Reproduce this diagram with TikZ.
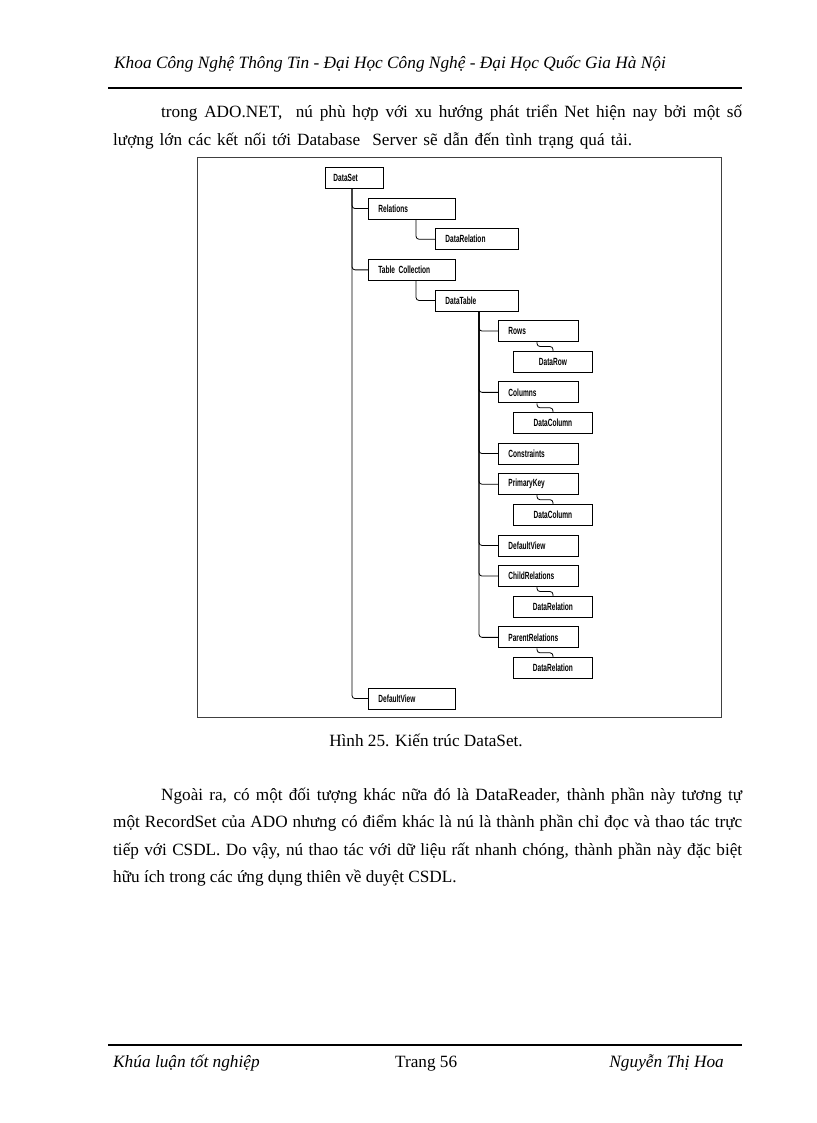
\documentclass[tikz,border=0pt]{standalone}
\usepackage{fontspec}
\setmainfont{Liberation Serif}
\newfontfamily\boxfont[FakeStretch=0.63,UprightFont=* Bold]{Liberation Sans}
\tikzset{
  body/.style={anchor=base west, inner sep=0pt, font=\fontsize{17.2pt}{20pt}\selectfont},
  hdr/.style={anchor=base west, inner sep=0pt, font=\fontsize{17.3pt}{20pt}\selectfont\itshape},
  lbox/.style={draw, line width=0.9pt, anchor=north west, minimum height=21pt, inner xsep=10pt, inner ysep=0pt, align=left, font=\boxfont\fontsize{10.4pt}{12pt}\selectfont},
  cbox/.style={lbox, align=center},
  conn/.style={line width=0.8pt, rounded corners=3pt},
  frame/.style={line width=0.8pt, draw=black!75},
  rulel/.style={line width=2.4pt}
}
\begin{document}
\begin{tikzpicture}[x=1pt,y=-1pt]
\useasboundingbox (0,0) rectangle (816,1123);
\fill[white] (0,0) rectangle (816,1123);
% header
\node[hdr] (head) at (114,69) {Khoa Công Nghệ Thông Tin - Đại Học Công Nghệ - Đại Học Quốc Gia Hà Nội};
\coordinate (hrA) at (108,88); \coordinate (hrB) at (742,88);
\draw[rulel] (hrA) -- (hrB);
% paragraph 1
\node[body] (p1a) at (161,118) {\hbox to 581pt{trong ADO.NET, \ nú phù hợp với xu hướng phát triển Net hiện nay bởi một số}};
\node[body] (p1b) at (113,145.5) {\hbox to 519pt{lượng lớn các kết nối tới Database \ Server sẽ dẫn đến tình trạng quá tải.}};
% frame
\draw[frame] (197,157) rectangle (721,717);
% boxes
\node[lbox, text width=42pt, inner xsep=8pt] (ds) at (325,167) {DataSet};
\node[lbox, text width=67pt] (rel) at (368,197.6) {Relations};
\node[lbox, text width=63pt] (drel) at (435,228.3) {DataRelation};
\node[lbox, text width=67pt] (tc) at (368,258.9) {Table Collection};
\node[lbox, text width=63pt] (dt) at (435,289.5) {DataTable};
\node[lbox, text width=60pt] (rows) at (498,320.1) {Rows};
\node[cbox, text width=59pt] (drow) at (513,350.8) {DataRow};
\node[lbox, text width=60pt] (cols) at (498,381.4) {Columns};
\node[cbox, text width=59pt] (dcol) at (513,412) {DataColumn};
\node[lbox, text width=60pt] (cons) at (498,442.6) {Constraints};
\node[lbox, text width=60pt] (pk) at (498,473.3) {PrimaryKey};
\node[cbox, text width=59pt] (dcol2) at (513,503.9) {DataColumn};
\node[lbox, text width=60pt] (dv2) at (498,534.5) {DefaultView};
\node[lbox, text width=60pt] (cr) at (498,565.1) {ChildRelations};
\node[cbox, text width=59pt] (drel2) at (513,595.8) {DataRelation};
\node[lbox, text width=60pt] (pr) at (498,626.4) {ParentRelations};
\node[cbox, text width=59pt] (drel3) at (513,657) {DataRelation};
\node[lbox, text width=67pt] (dv) at (368,687.6) {DefaultView};
% connectors
\draw[conn] ([xshift=27pt]ds.south west) |- (rel.west);
\draw[conn] ([xshift=27pt]ds.south west) |- (tc.west);
\draw[conn] ([xshift=27pt]ds.south west) |- (dv.west);
\draw[conn] ([xshift=48pt]rel.south west) |- (drel.west);
\draw[conn] ([xshift=48pt]tc.south west) |- (dt.west);
\foreach \t in {rows,cols,cons,pk,dv2,cr,pr}
  \draw[conn] ([xshift=44pt]dt.south west) |- (\t.west);
\draw[conn] ([xshift=39pt]rows.south west) -- ++(0,4.5) -| ([xshift=40pt]drow.north west);
\draw[conn] ([xshift=39pt]cols.south west) -- ++(0,4.5) -| ([xshift=40pt]dcol.north west);
\draw[conn] ([xshift=39pt]pk.south west) -- ++(0,4.5) -| ([xshift=40pt]dcol2.north west);
\draw[conn] ([xshift=39pt]cr.south west) -- ++(0,4.5) -| ([xshift=40pt]drel2.north west);
\draw[conn] ([xshift=39pt]pr.south west) -- ++(0,4.5) -| ([xshift=40pt]drel3.north west);
% caption
\node[body, anchor=base] (cap) at (426,746) {Hình 25. Kiến trúc DataSet.};
% paragraph 2
\node[body] (p2a) at (161,800) {\hbox to 581pt{Ngoài ra, có một đối tượng khác nữa đó là DataReader, thành phần này tương tự}};
\node[body] (p2b) at (113,827.5) {\hbox to 629pt{một RecordSet của ADO nhưng có điểm khác là nú là thành phần chỉ đọc và thao tác trực}};
\node[body] (p2c) at (113,855) {\hbox to 629pt{tiếp với CSDL. Do vậy, nú thao tác với dữ liệu rất nhanh chóng, thành phần này đặc biệt}};
\node[body] (p2d) at (113,882.5) {hữu ích trong các ứng dụng thiên về duyệt CSDL.};
% footer
\coordinate (frA) at (108,1045); \coordinate (frB) at (742,1045);
\draw[rulel] (frA) -- (frB);
\node[hdr] (fl) at (113,1067) {Khúa luận tốt nghiệp};
\node[body, anchor=base west] (fm) at (395,1067) {Trang 56};
\node[hdr, anchor=base east] (fr) at (724,1067) {Nguyễn Thị Hoa};
\end{tikzpicture}
\end{document}
